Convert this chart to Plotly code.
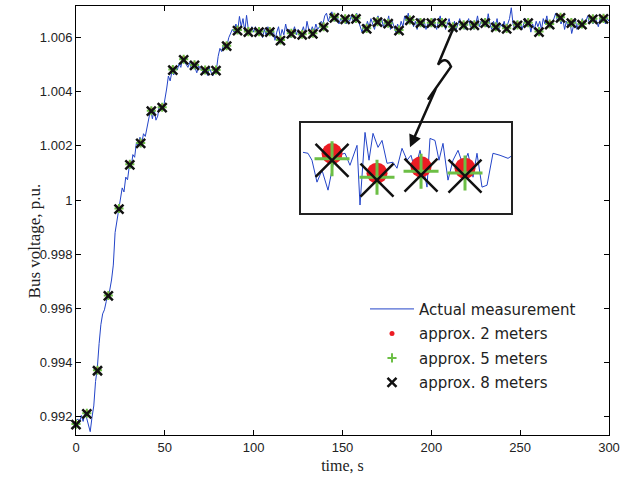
import plotly.graph_objects as go

# ---------------- data ----------------
# Actual measurement (1 s samples, 0..300 s)
meas_t = list(range(0, 301))
meas_v = [
    0.99185, 0.99192, 0.99178, 0.99205, 0.99183, 0.99212, 0.99195, 0.99172, 0.99145, 0.99198,
    0.99240, 0.99330, 0.99380, 0.99470, 0.99540, 0.99580, 0.99595, 0.99625, 0.99650, 0.99668,
    0.99705, 0.99760, 0.99880, 0.99920, 0.99965, 0.99990, 1.00045, 1.00030, 1.00085, 1.00075,
    1.00125, 1.00118, 1.00168, 1.00158, 1.00212, 1.00200, 1.00232, 1.00210, 1.00245, 1.00235,
    1.00268, 1.00315, 1.00335, 1.00300, 1.00335, 1.00295, 1.00310, 1.00355, 1.00340, 1.00332,
    1.00365, 1.00410, 1.00458, 1.00440, 1.00475, 1.00462, 1.00492, 1.00480, 1.00503, 1.00490,
    1.00522, 1.00510, 1.00502, 1.00490, 1.00508, 1.00482, 1.00500, 1.00488, 1.00470, 1.00496,
    1.00485, 1.00478, 1.00468, 1.00490, 1.00460, 1.00488, 1.00470, 1.00458, 1.00482, 1.00480,
    1.00530, 1.00560, 1.00548, 1.00575, 1.00560, 1.00572, 1.00600, 1.00618, 1.00630, 1.00620,
    1.00650, 1.00622, 1.00678, 1.00640, 1.00670, 1.00620, 1.00682, 1.00630, 1.00612, 1.00640,
    1.00620, 1.00640, 1.00610, 1.00630, 1.00620, 1.00600, 1.00630, 1.00610, 1.00640, 1.00620,
    1.00610, 1.00630, 1.00590, 1.00620, 1.00640, 1.00600, 1.00630, 1.00610, 1.00650, 1.00620,
    1.00630, 1.00600, 1.00620, 1.00640, 1.00610, 1.00630, 1.00600, 1.00620, 1.00640, 1.00610,
    1.00660, 1.00630, 1.00620, 1.00640, 1.00620, 1.00650, 1.00630, 1.00640, 1.00660, 1.00650,
    1.00680, 1.00690, 1.00660, 1.00680, 1.00695, 1.00670, 1.00660, 1.00680, 1.00650, 1.00670,
    1.00660, 1.00680, 1.00650, 1.00670, 1.00660, 1.00680, 1.00660, 1.00670, 1.00690, 1.00660,
    1.00640, 1.00620, 1.00650, 1.00630, 1.00660, 1.00640, 1.00670, 1.00650, 1.00630, 1.00660,
    1.00680, 1.00650, 1.00670, 1.00640, 1.00660, 1.00650, 1.00680, 1.00630, 1.00660, 1.00640,
    1.00620, 1.00650, 1.00630, 1.00660, 1.00640, 1.00680, 1.00660, 1.00690, 1.00650, 1.00670,
    1.00640, 1.00660, 1.00630, 1.00670, 1.00650, 1.00640, 1.00660, 1.00630, 1.00650, 1.00660,
    1.00640, 1.00670, 1.00650, 1.00630, 1.00660, 1.00680, 1.00640, 1.00660, 1.00630, 1.00650,
    1.00670, 1.00640, 1.00620, 1.00660, 1.00630, 1.00650, 1.00670, 1.00640, 1.00660, 1.00630,
    1.00650, 1.00670, 1.00640, 1.00660, 1.00630, 1.00650, 1.00680, 1.00640, 1.00660, 1.00650,
    1.00670, 1.00640, 1.00688, 1.00650, 1.00630, 1.00660, 1.00640, 1.00670, 1.00630, 1.00650,
    1.00640, 1.00660, 1.00630, 1.00650, 1.00670, 1.00710, 1.00650, 1.00630, 1.00660, 1.00640,
    1.00660, 1.00630, 1.00650, 1.00670, 1.00640, 1.00660, 1.00620, 1.00650, 1.00630, 1.00660,
    1.00640, 1.00660, 1.00630, 1.00670, 1.00650, 1.00680, 1.00640, 1.00660, 1.00650, 1.00670,
    1.00690, 1.00660, 1.00680, 1.00650, 1.00670, 1.00630, 1.00660, 1.00640, 1.00660, 1.00615,
    1.00650, 1.00670, 1.00630, 1.00660, 1.00640, 1.00670, 1.00650, 1.00660, 1.00680, 1.00650,
    1.00670, 1.00650, 1.00680, 1.00660, 1.00640, 1.00670, 1.00660, 1.00680, 1.00650, 1.00670,
    1.00660,
]

# Approximations (sampled every ~6 s)
approx_t = [0.0, 6.1, 12.1, 18.2, 24.2, 30.3, 36.4, 42.4, 48.5, 54.5,
            60.6, 66.7, 72.7, 78.8, 84.8, 90.9, 97.0, 103.0, 109.1, 115.1,
            121.2, 127.3, 133.3, 139.4, 145.4, 151.5, 157.6, 163.6, 169.7, 175.7,
            181.8, 187.9, 193.9, 200.0, 206.0, 212.1, 218.2, 224.2, 230.3, 236.3,
            242.4, 248.5, 254.5, 260.6, 266.6, 272.7, 278.8, 284.8, 290.9, 296.9]
approx8_v = [0.99171, 0.99211, 0.99370, 0.99646, 0.99967, 1.00130, 1.00209, 1.00328, 1.00341, 1.00480,
             1.00518, 1.00497, 1.00478, 1.00478, 1.00568, 1.00626, 1.00620, 1.00620, 1.00620, 1.00589,
             1.00614, 1.00610, 1.00614, 1.00638, 1.00673, 1.00667, 1.00669, 1.00632, 1.00657, 1.00651,
             1.00626, 1.00663, 1.00653, 1.00653, 1.00653, 1.00638, 1.00645, 1.00645, 1.00653, 1.00638,
             1.00632, 1.00645, 1.00653, 1.00620, 1.00648, 1.00673, 1.00653, 1.00648, 1.00667, 1.00669]
approx5_v = [0.99173, 0.99213, 0.99372, 0.99648, 0.99969, 1.00132, 1.00211, 1.00330, 1.00343, 1.00482,
             1.00520, 1.00499, 1.00480, 1.00480, 1.00570, 1.00628, 1.00622, 1.00622, 1.00622, 1.00591,
             1.00616, 1.00612, 1.00616, 1.00640, 1.00675, 1.00669, 1.00671, 1.00634, 1.00659, 1.00653,
             1.00628, 1.00665, 1.00655, 1.00655, 1.00655, 1.00640, 1.00647, 1.00647, 1.00655, 1.00640,
             1.00634, 1.00647, 1.00655, 1.00622, 1.00650, 1.00675, 1.00655, 1.00650, 1.00669, 1.00671]
approx2_v = [0.99176, 0.99216, 0.99375, 0.99651, 0.99972, 1.00135, 1.00214, 1.00333, 1.00346, 1.00485,
             1.00523, 1.00502, 1.00483, 1.00483, 1.00573, 1.00631, 1.00625, 1.00625, 1.00625, 1.00594,
             1.00619, 1.00615, 1.00619, 1.00643, 1.00678, 1.00672, 1.00674, 1.00637, 1.00662, 1.00656,
             1.00631, 1.00668, 1.00658, 1.00658, 1.00658, 1.00643, 1.00650, 1.00650, 1.00658, 1.00643,
             1.00637, 1.00650, 1.00658, 1.00625, 1.00653, 1.00678, 1.00658, 1.00653, 1.00672, 1.00674]

# Inset (magnified view around t = 208..237 s)
inset_t = [208.28, 208.96, 209.51, 210.20, 210.89, 211.72, 212.40, 213.09, 214.06, 214.74,
           215.71, 216.12, 216.81, 217.36, 217.91, 218.60, 219.15, 219.84, 220.66, 221.21,
           221.90, 222.59, 223.14, 223.69, 224.38, 225.34, 225.75, 226.44, 226.99, 227.54,
           228.23, 228.92, 229.61, 230.30, 230.98, 231.67, 232.22, 232.91, 233.60, 234.42,
           235.39, 236.49, 236.90]
inset_v = [1.006626, 1.006617, 1.006551, 1.006343, 1.006456, 1.006267, 1.006503, 1.006598, 1.006617, 1.006503,
           1.006692, 1.006126, 1.006815, 1.006551, 1.006806, 1.006673, 1.006739, 1.006522, 1.006532, 1.006475,
           1.006664, 1.006551, 1.006598, 1.006456, 1.006645, 1.006296, 1.006758, 1.006739, 1.006551, 1.006711,
           1.006362, 1.006551, 1.006645, 1.006503, 1.006617, 1.006390, 1.006617, 1.006296, 1.006314, 1.006617,
           1.006598, 1.006569, 1.006588]
inset_mt = [212.27, 218.46, 224.52, 230.57]
inset_m8 = [1.006550, 1.006362, 1.006409, 1.006400]
inset_m5 = [1.006565, 1.006390, 1.006447, 1.006430]
inset_m2 = [1.006614, 1.006428, 1.006489, 1.006475]

x_ticks = [0, 50, 100, 150, 200, 250, 300]
y_ticks = [0.992, 0.994, 0.996, 0.998, 1.0, 1.002, 1.004, 1.006]
y_ticktext = ["0.992", "0.994", "0.996", "0.998", "1", "1.002", "1.004", "1.006"]

labels = ["Actual measurement", "approx. 2 meters", "approx. 5 meters", "approx. 8 meters"]

# ---------------- styling ----------------
BLUE = "#2344c8"
RED = "#ec1c24"
GREEN = "#6cbf45"
BLACK = "#111111"

W, H = 632, 477
L, R, T, B = 76, 609, 5, 436


def px(x):
    return (x - L) / (R - L)


def py(y):
    return (B - y) / (B - T)


fig = go.Figure()

fig.add_trace(go.Scatter(x=meas_t, y=meas_v, mode="lines", name=labels[0],
                         line=dict(color=BLUE, width=1), legendgroup="a"))
fig.add_trace(go.Scatter(x=approx_t, y=approx2_v, mode="markers", name=labels[1],
                         marker=dict(color=RED, size=5, symbol="circle"),
                         cliponaxis=False, legendgroup="b"))
fig.add_trace(go.Scatter(x=approx_t, y=approx5_v, mode="markers", name=labels[2],
                         marker=dict(color=GREEN, size=6.5, symbol="cross-thin",
                                     line=dict(color=GREEN, width=2)),
                         cliponaxis=False, legendgroup="c"))
fig.add_trace(go.Scatter(x=approx_t, y=approx8_v, mode="markers", name=labels[3],
                         marker=dict(color=BLACK, size=9, symbol="x-thin",
                                     line=dict(color=BLACK, width=2.5)),
                         cliponaxis=False, legendgroup="d"))

# inset traces
fig.add_trace(go.Scatter(x=inset_t, y=inset_v, mode="lines", showlegend=False,
                         line=dict(color=BLUE, width=1), xaxis="x2", yaxis="y2"))
fig.add_trace(go.Scatter(x=inset_mt, y=inset_m2, mode="markers", showlegend=False,
                         marker=dict(color=RED, size=21, symbol="circle"),
                         xaxis="x2", yaxis="y2"))
fig.add_trace(go.Scatter(x=inset_mt, y=inset_m5, mode="markers", showlegend=False,
                         marker=dict(color=GREEN, size=25, symbol="cross-thin",
                                     line=dict(color=GREEN, width=3)),
                         xaxis="x2", yaxis="y2"))
fig.add_trace(go.Scatter(x=inset_mt, y=inset_m8, mode="markers", showlegend=False,
                         marker=dict(color=BLACK, size=33, symbol="x-thin",
                                     line=dict(color=BLACK, width=2.5)),
                         xaxis="x2", yaxis="y2"))

axis_common = dict(showgrid=False, zeroline=False, showline=True, linecolor="#000",
                   linewidth=1, mirror="ticks", ticks="inside", ticklen=5,
                   tickcolor="#000",
                   tickfont=dict(family="Liberation Sans, Arial", size=13, color="#222"))

fig.update_layout(
    width=W, height=H,
    margin=dict(l=L, r=W - R, t=T, b=H - B),
    paper_bgcolor="white", plot_bgcolor="white",
    xaxis=dict(range=[0, 300], tickvals=x_ticks, domain=[0, 1],
               title=dict(text="time, s", standoff=6,
                          font=dict(family="Liberation Serif, DejaVu Serif", size=16, color="#222")),
               **axis_common),
    yaxis=dict(range=[0.991328, 1.007165], tickvals=y_ticks, ticktext=y_ticktext, domain=[0, 1],
               **axis_common),
    xaxis2=dict(domain=[px(301), px(511)], range=[208.0, 236.9], anchor="y2",
                showgrid=False, zeroline=False, showticklabels=False, ticks="",
                showline=True, linecolor="#222", linewidth=2, mirror=True),
    yaxis2=dict(domain=[py(213), py(123)], range=[1.00605, 1.00690], anchor="x2",
                showgrid=False, zeroline=False, showticklabels=False, ticks="",
                showline=True, linecolor="#222", linewidth=2, mirror=True),
    legend=dict(x=px(365), y=py(293), xanchor="left", yanchor="top",
                bgcolor="rgba(0,0,0,0)", borderwidth=0,
                font=dict(family="DejaVu Sans", size=15, color="#222"),
                itemwidth=44, tracegroupgap=2),
    showlegend=True,
)

# y-axis title (placed as annotation to match original position)
fig.add_annotation(text="Bus voltage, p.u.", xref="paper", yref="paper",
                   x=px(23), y=py(241), textangle=-90, showarrow=False,
                   font=dict(family="Liberation Serif, DejaVu Serif", size=17, color="#222"))

# lightning-bolt pointer to the inset
bolt = "M {},{} L {},{} Q {},{} {},{} L {},{} Q {},{} {},{}".format(
    px(453), py(28), px(438), py(64), px(446), py(54), px(451), py(66),
    px(430), py(96), px(425), py(103), px(436), py(88))
fig.add_shape(type="path", path=bolt, xref="paper", yref="paper",
              line=dict(color="#111", width=2.5))
fig.add_annotation(x=px(410), y=py(147), xref="paper", yref="paper", text="",
                   showarrow=True, arrowhead=2, arrowsize=1, arrowwidth=2.5,
                   arrowcolor="#111", ax=436 - 410, ay=88 - 147)

fig.write_html("out.html")
